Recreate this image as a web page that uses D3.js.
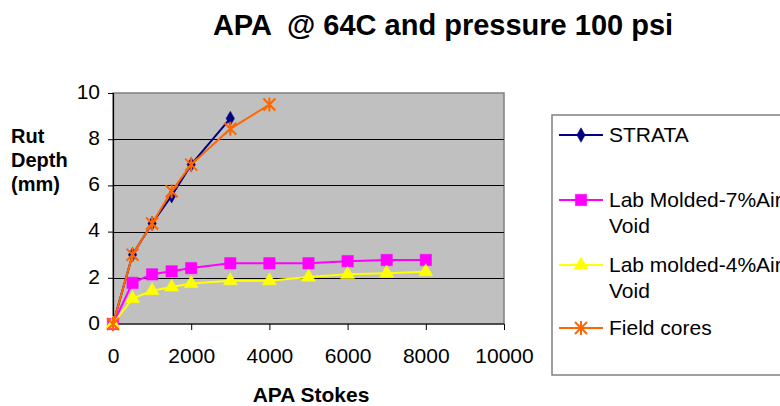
<!DOCTYPE html>
<html>
<head>
<meta charset="utf-8">
<script src="https://cdn.jsdelivr.net/npm/d3@7"></script>
<style>
  html, body { margin: 0; padding: 0; background: #fff; }
  svg { display: block; font-family: "Liberation Sans", Arial, sans-serif; }
</style>
</head>
<body>
<svg id="chart" width="780" height="406"></svg>
<script>
// APA rut depth versus number of strokes
const strokesStrata = [0, 500, 1000, 1500, 2000, 3000];
const rutStrata = [0, 3.0, 4.35, 5.55, 6.9, 8.9];

const strokesLab7 = [0, 500, 1000, 1500, 2000, 3000, 4000, 5000, 6000, 7000, 8000];
const rutLab7 = [0, 1.78, 2.15, 2.28, 2.42, 2.63, 2.63, 2.63, 2.72, 2.77, 2.77];

const strokesLab4 = [0, 500, 1000, 1500, 2000, 3000, 4000, 5000, 6000, 7000, 8000];
const rutLab4 = [0, 1.1, 1.44, 1.6, 1.75, 1.87, 1.87, 2.03, 2.15, 2.2, 2.26];

const strokesField = [0, 500, 1000, 1500, 2000, 3000, 4000];
const rutField = [0, 3.0, 4.35, 5.75, 6.9, 8.45, 9.5];

const xTicks = [0, 2000, 4000, 6000, 8000, 10000];
const yTicks = [0, 2, 4, 6, 8, 10];

const seriesNames = ["STRATA", "Lab Molded-7%Air Void", "Lab molded-4%Air Void", "Field cores"];
const seriesColors = ["#000080", "#ff00ff", "#ffff00", "#ff6600"];
const seriesMarkers = ["diamond", "square", "triangle", "star"];

const series = [
  { x: strokesStrata, y: rutStrata },
  { x: strokesLab7, y: rutLab7 },
  { x: strokesLab4, y: rutLab4 },
  { x: strokesField, y: rutField }
].map((s, i) => ({
  name: seriesNames[i], color: seriesColors[i], marker: seriesMarkers[i],
  points: s.x.map((v, j) => [v, s.y[j]])
}));

const svg = d3.select("#chart");
const plot = { left: 113, top: 93, right: 504, bottom: 324 };

const x = d3.scaleLinear().domain([0, 10000]).range([plot.left, plot.right]);
const y = d3.scaleLinear().domain([0, 10]).range([plot.bottom, plot.top]);

// Plot area background
svg.append("rect")
  .attr("x", plot.left).attr("y", plot.top)
  .attr("width", plot.right - plot.left).attr("height", plot.bottom - plot.top)
  .attr("fill", "#c0c0c0")
  .attr("stroke", "#808080").attr("stroke-width", 1.5);

// Horizontal gridlines
svg.append("g").selectAll("line")
  .data(yTicks.filter(d => d > 0 && d < 10))
  .join("line")
  .attr("x1", plot.left).attr("x2", plot.right)
  .attr("y1", d => Math.round(y(d)) + 0.5).attr("y2", d => Math.round(y(d)) + 0.5)
  .attr("stroke", "#000").attr("stroke-width", 1);

// Axes
const yAxis = svg.append("g")
  .attr("transform", `translate(${plot.left},0)`)
  .call(d3.axisLeft(y).tickValues(yTicks).tickSize(5).tickPadding(8).tickFormat(d3.format("d")));
const xAxis = svg.append("g")
  .attr("transform", `translate(0,${plot.bottom})`)
  .call(d3.axisBottom(x).tickValues(xTicks).tickSize(6).tickPadding(18).tickFormat(d3.format("d")));

[yAxis, xAxis].forEach(g => {
  g.select(".domain").attr("stroke", "#000").attr("stroke-width", 1.2);
  g.selectAll(".tick line").attr("stroke", "#000");
  g.selectAll(".tick text")
    .attr("fill", "#000")
    .style("font-family", "'Liberation Sans', Arial, sans-serif")
    .style("font-size", "21px");
});
yAxis.selectAll(".tick text").attr("dy", "0.25em");
xAxis.selectAll(".tick text").attr("dy", "0.71em");
xAxis.select(".domain").attr("d", `M${plot.left},0H${plot.right}`);

// Marker symbols
const symbolFor = {
  diamond: d3.symbol().type(d3.symbolDiamond).size(60),
  square: d3.symbol().type(d3.symbolSquare).size(130),
  triangle: d3.symbol().type(d3.symbolTriangle).size(85),
  star: null
};

function drawMarker(g, kind, color) {
  if (kind === "star") {
    const r = 6;
    const p = [];
    p.push(`M${-r},${-r}L${r},${r}`);
    p.push(`M${r},${-r}L${-r},${r}`);
    p.push(`M0,${-r - 1}V${r + 1}`);
    g.append("path").attr("d", p.join("")).attr("stroke", color).attr("stroke-width", 2).attr("fill", "none");
  } else {
    g.append("path").attr("d", symbolFor[kind]()).attr("fill", color).attr("stroke", color).attr("stroke-width", 0.5);
  }
}

const line = d3.line().x(d => x(d[0])).y(d => y(d[1]));

series.forEach(s => {
  const g = svg.append("g");
  g.append("path")
    .datum(s.points)
    .attr("d", line)
    .attr("fill", "none")
    .attr("stroke", s.color)
    .attr("stroke-width", 2);
  s.points.forEach(p => {
    const m = g.append("g").attr("transform", `translate(${x(p[0])},${y(p[1])})`);
    drawMarker(m, s.marker, s.color);
  });
});

// Title
svg.append("text")
  .attr("x", 443).attr("y", 35)
  .attr("text-anchor", "middle")
  .attr("xml:space", "preserve")
  .style("white-space", "pre")
  .style("font-size", "29px").style("font-weight", "bold")
  .text("APA  @ 64C and pressure 100 psi");

// Y-axis title
const yt = svg.append("text")
  .style("font-size", "20px").style("font-weight", "bold");
["Rut", "Depth", "(mm)"].forEach((t, i) => {
  yt.append("tspan").attr("x", 11).attr("y", 143 + i * 24).text(t);
});

// X-axis title
svg.append("text")
  .attr("x", 311).attr("y", 402)
  .attr("text-anchor", "middle")
  .style("font-size", "21px").style("font-weight", "bold")
  .text("APA Stokes");

// Legend (its box runs past the right edge of the page)
const legend = svg.append("g");
legend.append("rect")
  .attr("x", 552).attr("y", 115)
  .attr("width", 240).attr("height", 260)
  .attr("fill", "#fff").attr("stroke", "#808080").attr("stroke-width", 1.5);

const legendRows = [
  { lines: ["STRATA"], y: 135 },
  { lines: ["Lab Molded-7%Air", "Void"], y: 200 },
  { lines: ["Lab molded-4%Air", "Void"], y: 265 },
  { lines: ["Field cores"], y: 328 }
];

legendRows.forEach((row, i) => {
  const s = series[i];
  legend.append("line")
    .attr("x1", 559).attr("x2", 603)
    .attr("y1", row.y).attr("y2", row.y)
    .attr("stroke", s.color).attr("stroke-width", 2);
  const m = legend.append("g").attr("transform", `translate(581,${row.y})`);
  drawMarker(m, s.marker, s.color);
  const t = legend.append("text").style("font-size", "21px");
  row.lines.forEach((l, k) => {
    t.append("tspan").attr("x", 609).attr("y", row.y + 7 + k * 26).text(l);
  });
});
</script>
</body>
</html>
